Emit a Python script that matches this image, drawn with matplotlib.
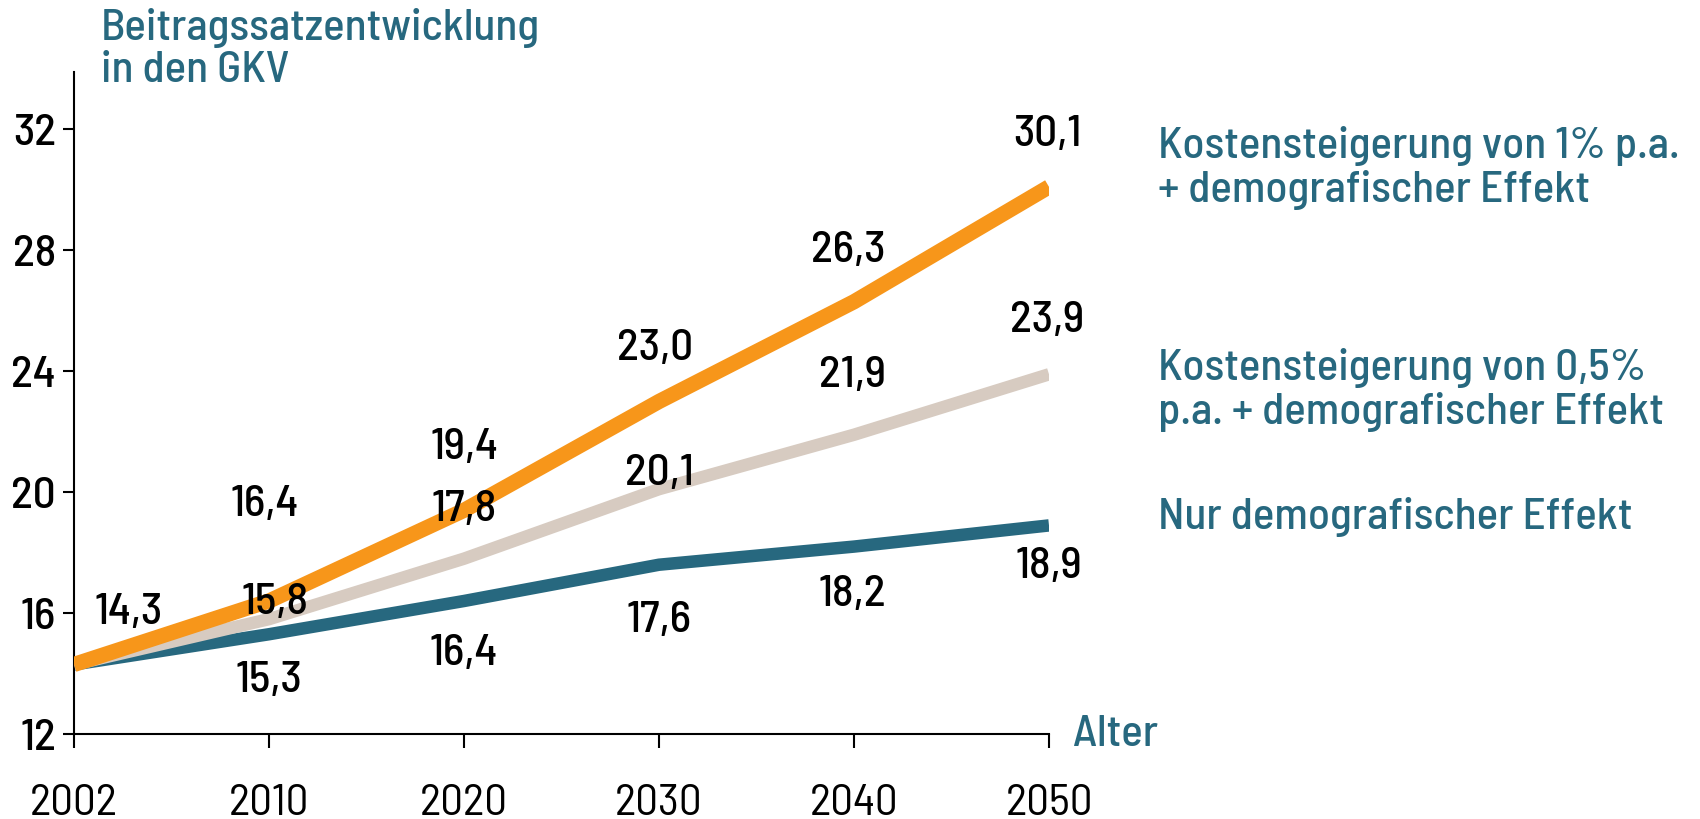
import matplotlib
matplotlib.use("Agg")
import matplotlib.pyplot as plt

plt.rcParams["font.family"] = ["Barlow Semi Condensed", "DejaVu Sans"]
plt.rcParams["font.weight"] = 500

TEAL = "#27687f"
ORANGE = "#f7961a"
BEIGE = "#d7cbc1"

years = ["2002", "2010", "2020", "2030", "2040", "2050"]
cost_1 = [14.3, 16.4, 19.4, 23.0, 26.3, 30.1]
cost_05 = [14.3, 15.8, 17.8, 20.1, 21.9, 23.9]
demo_only = [14.3, 15.3, 16.4, 17.6, 18.2, 18.9]

names = ["Kostensteigerung von 1% p.a.\n+ demografischer Effekt",
         "Kostensteigerung von 0,5%\np.a. + demografischer Effekt",
         "Nur demografischer Effekt"]

# label offsets (dx in category units, dy in data units) -- layout only
off_1 = [(0.28, 1.72), (-0.02, 3.18), (0.0, 2.08), (-0.02, 1.75), (-0.03, 1.68), (-0.01, 1.72)]
off_05 = [None, (0.03, 0.54), (0.0, 1.63), (0.0, 0.52), (-0.01, 1.95), (-0.01, 1.78)]
off_demo = [None, (0.0, -1.54), (0.0, -1.74), (0.0, -1.83), (-0.01, -1.57), (0.0, -1.37)]

FS = 32.5

fig = plt.figure(figsize=(17, 8.19), dpi=100)
ax = fig.add_axes([74 / 1700, 1 - 734 / 819, (1049 - 74) / 1700, (734 - 72) / 819])

x = list(range(len(years)))
ax.plot(x, demo_only, color=TEAL, lw=9, solid_capstyle="butt", solid_joinstyle="round", zorder=2)
ax.plot(x, cost_05, color=BEIGE, lw=9, solid_capstyle="butt", solid_joinstyle="round", zorder=3)
ax.plot(x, cost_1, color=ORANGE, lw=11, solid_capstyle="butt", solid_joinstyle="round", zorder=4)


def fmt(v):
    return f"{v:.1f}".replace(".", ",")


for vals, offs in [(cost_1, off_1), (cost_05, off_05), (demo_only, off_demo)]:
    for i, (v, o) in enumerate(zip(vals, offs)):
        if o is None:
            continue
        ax.text(i + o[0], v + o[1], fmt(v), ha="center", va="center",
                fontsize=FS, color="black", zorder=5)

ax.set_xlim(0, 5)
ax.set_ylim(12, 33.9)
ax.set_xticks(x)
ax.set_xticklabels(years, fontweight=400)
ax.set_yticks([12, 16, 20, 24, 28, 32])
ax.tick_params(axis="x", length=10, width=1.5, pad=26, labelsize=FS)
ax.tick_params(axis="y", length=8, width=1.5, pad=5, labelsize=FS)
for s in ["top", "right"]:
    ax.spines[s].set_visible(False)
for s in ["left", "bottom"]:
    ax.spines[s].set_linewidth(1.5)

ax.text(1.025, 0, "Alter", transform=ax.transAxes, ha="left", va="center",
        fontsize=FS, color=TEAL)

fig.text(101 / 1700, 1 - 8 / 819, "Beitragssatzentwicklung\nin den GKV", ha="left", va="top",
         fontsize=FS, color=TEAL, linespacing=1.1)

for name, yc in zip(names, [168, 390, 517]):
    fig.text(1158 / 1700, 1 - yc / 819, name, ha="left", va="center",
             fontsize=FS, color=TEAL, linespacing=1.15)

fig.savefig("out.png", dpi=100)
